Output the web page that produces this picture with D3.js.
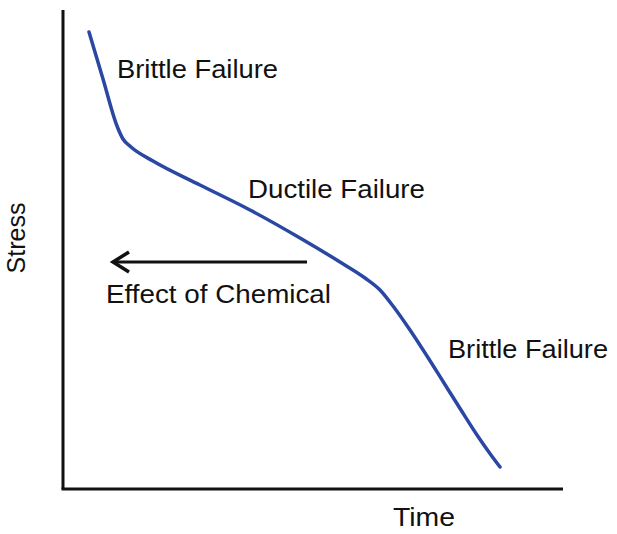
<!DOCTYPE html>
<html><head><meta charset="utf-8">
<script src="https://cdn.jsdelivr.net/npm/d3@7"></script>
<style>body{margin:0;background:#fff}text{font-family:Arial,"Liberation Sans",sans-serif;fill:#111}</style>
</head><body><svg id="c" width="617" height="534"></svg>
<script>
// Curve data (time, stress) in arbitrary units
const time   = [26, 40, 54, 60, 68, 90, 137, 187, 237, 277, 302, 317, 330, 347, 364, 381, 398, 414, 428, 437];
const stress = [457, 410, 363, 350, 342, 328, 304, 279, 251, 227, 211, 199, 183, 159, 133, 106, 79, 54, 34, 22];
const labels = ["Brittle Failure", "Ductile Failure", "Brittle Failure"];
const labelPos = [[54, 411], [185, 291], [385, 131]];
const arrowFrom = [244, 227], arrowTo = [50, 227];

const svg = d3.select("#c");
const x = d3.scaleLinear().domain([0, 500]).range([63, 563]);
const y = d3.scaleLinear().domain([0, 479]).range([489, 10]);

// axes
svg.append("line").attr("x1", x(0)).attr("y1", y(479)).attr("x2", x(0)).attr("y2", y(0))
  .attr("stroke", "#111").attr("stroke-width", 3);
svg.append("line").attr("x1", x(0) - 1.5).attr("y1", y(0)).attr("x2", x(500)).attr("y2", y(0))
  .attr("stroke", "#111").attr("stroke-width", 3);

// curve
const pts = time.map((t, i) => [t, stress[i]]);
svg.append("path").datum(pts)
  .attr("d", d3.line().x(d => x(d[0])).y(d => y(d[1])).curve(d3.curveMonotoneX))
  .attr("fill", "none").attr("stroke", "#2a47a3").attr("stroke-width", 3.5).attr("stroke-linecap", "round");

// labels
const widths = [161, 177, 160];
labels.forEach((l, i) => {
  svg.append("text").attr("x", x(labelPos[i][0])).attr("y", y(labelPos[i][1]))
    .attr("font-size", 25).attr("textLength", widths[i]).attr("lengthAdjust", "spacingAndGlyphs").text(l);
});

// arrow
svg.append("line").attr("x1", x(arrowFrom[0])).attr("y1", y(arrowFrom[1])).attr("x2", x(arrowTo[0]) + 2).attr("y2", y(arrowTo[1]))
  .attr("stroke", "#111").attr("stroke-width", 3);
const ax = x(arrowTo[0]), ay = y(arrowTo[1]);
svg.append("path").attr("d", `M${ax + 16},${ay - 10} L${ax},${ay} L${ax + 16},${ay + 10}`)
  .attr("fill", "none").attr("stroke", "#111").attr("stroke-width", 3.5).attr("stroke-linejoin", "miter");
svg.append("text").attr("x", 106).attr("y", 303).attr("font-size", 25)
  .attr("textLength", 225).attr("lengthAdjust", "spacingAndGlyphs").text("Effect of Chemical");

// axis titles
svg.append("text").attr("x", 393).attr("y", 526).attr("font-size", 26)
  .attr("textLength", 62).attr("lengthAdjust", "spacingAndGlyphs").text("Time");
svg.append("text").attr("transform", "translate(25,238) rotate(-90)").attr("text-anchor", "middle")
  .attr("font-size", 25).text("Stress");
</script></body></html>
